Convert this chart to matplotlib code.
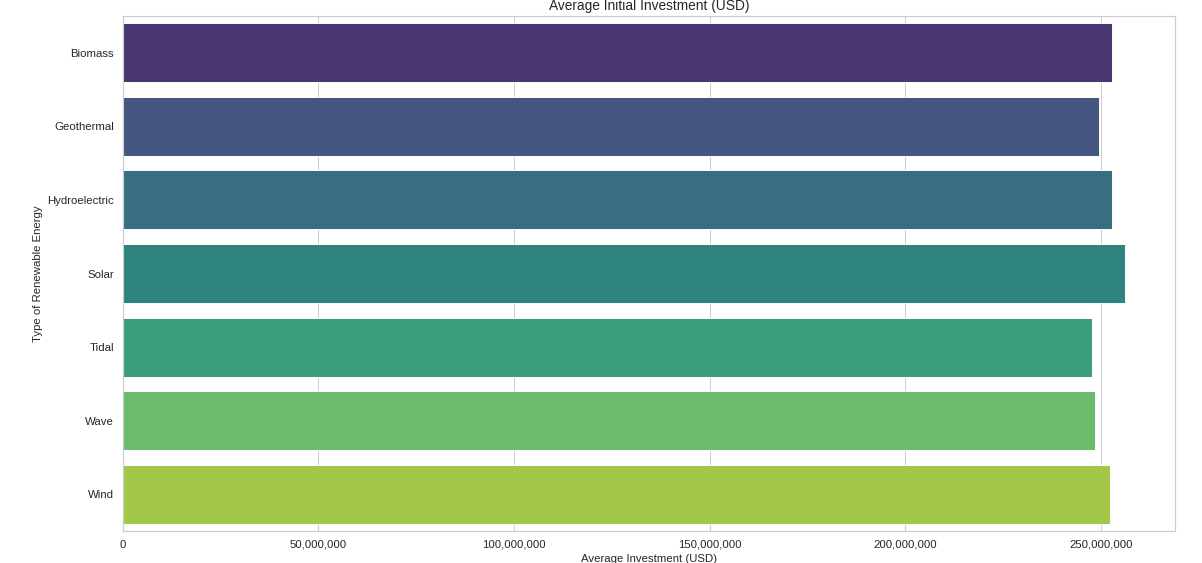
import matplotlib
matplotlib.use("Agg")
from matplotlib import pyplot as plt
from matplotlib.ticker import FuncFormatter
import seaborn as sns
import pandas as pd

# average initial investment per energy type (USD)
energy_types = ["Biomass", "Geothermal", "Hydroelectric", "Solar", "Tidal", "Wave", "Wind"]
avg_investment = [252.7e6, 249.5e6, 252.7e6, 256.1e6, 247.8e6, 248.5e6, 252.3e6]

df = pd.DataFrame({"Type": energy_types, "Investment": avg_investment})

sns.set_theme(style="whitegrid")
plt.rcParams['font.family'] = ['Liberation Sans', 'DejaVu Sans']

dpi = 68
fig, ax = plt.subplots(figsize=(1202 / dpi, 563 / dpi), dpi=dpi)
fig.subplots_adjust(left=0.1021, right=0.9775, top=0.9716, bottom=0.0568)

sns.barplot(data=df, x="Investment", y="Type", hue="Type", palette="viridis",
            legend=False, ax=ax)

ax.xaxis.set_major_formatter(FuncFormatter(lambda v, p: f"{v:,.0f}"))
ax.tick_params(labelsize=12)
ax.set_title("Average Initial Investment (USD)", fontsize=14.5)
ax.set_xlabel("Average Investment (USD)", fontsize=12)
ax.set_ylabel("Type of Renewable Energy", fontsize=12)

fig.savefig("out.png", dpi=dpi)
